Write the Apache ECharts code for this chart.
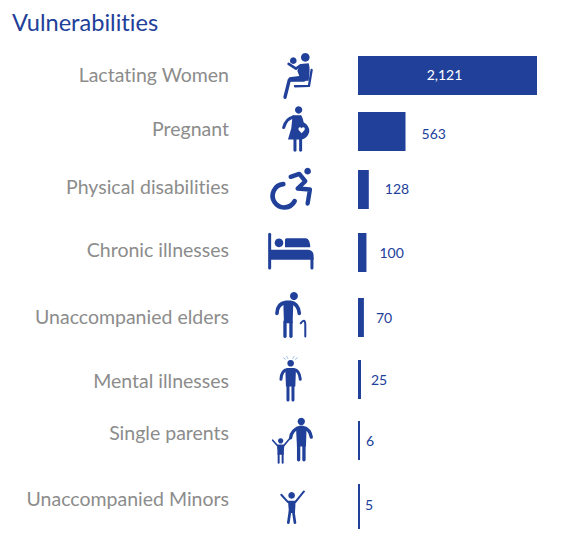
<!DOCTYPE html>
<html><head><meta charset="utf-8">
<style>html,body{margin:0;padding:0;background:#fff}#c{width:562px;height:533px}#c text{font-variant-ligatures:none}</style>
<script src="https://cdn.jsdelivr.net/npm/echarts@6/dist/echarts.min.js"></script>
</head><body><div id="c"></div>
<script>
const chartTitle = 'Vulnerabilities';
const categories = ['Lactating Women','Pregnant','Physical disabilities','Chronic illnesses','Unaccompanied elders','Mental illnesses','Single parents','Unaccompanied Minors'];
const values = [2121,563,128,100,70,25,6,5];

// layout of the rows (the reference spaces them unevenly)
const rowTop = [56,112,170,233,298,360,421,484];
const rowHeight = [39,39,39,39,39,39,39,45];
const minBar = [0,0,0,0,0,3,2,2];
const labelGap = [0,16,16,13,12,10,6,5];
const labelDy = [-1,2,-1,0,0,0,0,-2];
const catShift = [-1,-3,-3,-3,-1,0.5,-8,-8];

const BLUE = '#21409a', GREY = '#8c8c8c', FONT = 'Lato, "Open Sans", sans-serif';

const grids=[],xAxes=[],yAxes=[],series=[];
categories.forEach((cat,i)=>{
  grids.push({left:358,width:179,top:rowTop[i],height:rowHeight[i]});
  xAxes.push({type:'value',gridIndex:i,min:0,max:values[0],show:false});
  const s=catShift[i];
  yAxes.push({type:'category',gridIndex:i,data:[cat],axisLine:{show:false},axisTick:{show:false},splitLine:{show:false},
    axisLabel:{margin:129,fontFamily:FONT,fontSize:19.5,color:GREY,align:'right',
      verticalAlign:s<0?'bottom':'top',lineHeight:2*Math.abs(s)}});
  series.push({type:'bar',name:cat,xAxisIndex:i,yAxisIndex:i,data:[values[i]],barWidth:'100%',barMinHeight:minBar[i],
    silent:true,itemStyle:{color:BLUE},
    label:{show:true,position:i===0?'inside':'right',distance:labelGap[i],offset:[i===0?-3:0,labelDy[i]],
      color:i===0?'#fff':BLUE,fontFamily:FONT,fontSize:14,
      formatter:p=>Number(p.value).toLocaleString('en-US')}});
});

// pictograms, drawn in 3x units
const fill=(pathData,color)=>({type:'path',shape:{pathData},style:{fill:color||BLUE}});
const dot=(cx,cy,r)=>({type:'circle',shape:{cx,cy,r},style:{fill:BLUE}});
const pen=(pathData,w,color)=>({type:'path',shape:{pathData},style:{fill:'none',stroke:color||BLUE,lineWidth:w,lineCap:'round',lineJoin:'round'}});

const upper=[
 // mother + child on seat
 dot(136,52,13),dot(100,62,10),
 fill('M122,72 L146,70 Q152,85 146,122 L95,124 L84,122 L88,112 L118,108 L112,92 Z'),
 pen('M86,72 L108,86 L122,76',8),
 pen('M132,120 L88,120 L75,172',10),
 pen('M155,90 L147,138 L105,139',7),
 // pregnant
 dot(116,210,11),
 fill('M98,226 L124,226 Q130,238 131,247 Q150,258 148,276 Q142,296 124,299 L84,299 L94,265 Z'),
 pen('M100,231 Q78,236 71,263',9),
 fill('M130,262 Q136,262 134,270 L125,280 L116,270 Q114,262 120,262 Q124,262 125,266 Q126,262 130,262 Z','#fff'),
 pen('M105,298 L105,331',9),pen('M122,298 L122,331',9),
 // wheelchair
 dot(143,394,10),
 pen('M92,411 L118,402 L136,424 L113,446 L150,449 L143,491',13),
 pen('M70,433 A35,35 0 1 0 104,484',14),
 // bed
 pen('M29,583 L29,685',9),dot(57,609,13),
 fill('M80,595 L138,595 Q150,597 151,622 L75,622 L75,600 Q75,595 80,595 Z'),
 fill('M29,630 L144,630 Q161,632 161,648 L161,660 L29,660 Z'),
 pen('M156,655 L156,685',9)
];
const lower=[
 // elder with cane
 dot(102,33,12),
 pen('M51,85 Q52,55 78,52 L92,52 Q115,55 118,85',11),
 fill('M70,50 L100,50 L98,115 L72,115 Z'),
 pen('M75,110 L75,154',10),pen('M93,110 L93,154',10),
 pen('M122,115 Q135,98 136,118 L136,155',6),
 // mental illness
 dot(92,235,10),
 pen('M63,283 Q65,256 82,254 L102,254 Q118,256 121,283',9),
 fill('M76,252 L108,252 L106,305 L78,305 Z'),
 pen('M84,300 L84,345',9),pen('M99,300 L99,345',9),
 pen('M71,219 L77,223',2,'#6f9fe0'),pen('M80,214 L84,221',2,'#6f9fe0'),
 pen('M103,214 L98,221',2,'#6f9fe0'),pen('M112,219 L106,223',2,'#6f9fe0'),
 // single parent
 dot(124,410,11),
 pen('M92,459 Q95,435 118,428 L130,428 Q150,432 154,457',10),
 fill('M108,426 L140,426 L138,485 L111,485 Z'),
 pen('M116,480 L116,525',10),pen('M132,480 L132,525',10),
 dot(62,468,8),
 pen('M38,466 L52,482 L72,482 L90,460',5),
 fill('M51,480 L73,480 L71,510 L53,510 Z'),
 pen('M56,505 L56,534',6),pen('M68,505 L68,534',6),
 // minor
 dot(95,632,10),
 pen('M64,630 L84,652 L106,652 L132,620',6),
 fill('M84,648 L107,648 L105,685 L87,685 Z'),
 pen('M90,680 L85,714',8),pen('M100,680 L105,714',8)
];

series.push({type:'custom',coordinateSystem:'none',silent:true,data:[[0]],
  renderItem:()=>({type:'group',children:[
    {type:'group',x:260,y:40,scaleX:1/3,scaleY:1/3,children:upper},
    {type:'group',x:260,y:285,scaleX:1/3,scaleY:1/3,children:lower}
  ]})});

const chart=echarts.init(document.getElementById('c'),null,{renderer:'svg'});
chart.setOption({
  animation:false,backgroundColor:'#fff',
  title:{text:chartTitle,left:12,top:10,padding:0,textStyle:{color:BLUE,fontFamily:FONT,fontSize:23.6,fontWeight:'normal'}},
  grid:grids,xAxis:xAxes,yAxis:yAxes,series
});
</script></body></html>
